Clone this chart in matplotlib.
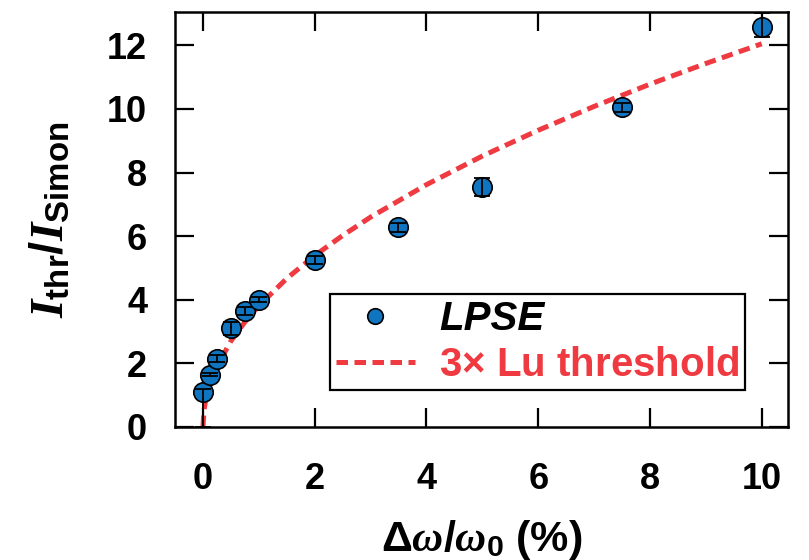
import numpy as np
import matplotlib.pyplot as plt

plt.rcParams['font.family'] = ['Liberation Sans', 'DejaVu Sans']
plt.rcParams['font.weight'] = 'bold'
plt.rcParams['axes.labelweight'] = 'bold'
plt.rcParams['mathtext.fontset'] = 'custom'
plt.rcParams['mathtext.rm'] = 'Liberation Sans:bold'
plt.rcParams['mathtext.bf'] = 'Liberation Sans:bold'
plt.rcParams['mathtext.it'] = 'Liberation Serif:italic:bold'

# LPSE simulation points
lpse_x = [0.0, 0.125, 0.25, 0.5, 0.75, 1.0, 2.0, 3.5, 5.0, 7.5, 10.0]
lpse_y = [1.1, 1.65, 2.15, 3.1, 3.65, 4.0, 5.25, 6.28, 7.55, 10.05, 12.57]
err_lo = [1.1, 0.05, 0.1, 0.2, 0.12, 0.08, 0.12, 0.15, 0.28, 0.15, 0.3]
err_hi = [0.1, 0.05, 0.1, 0.2, 0.12, 0.08, 0.12, 0.15, 0.28, 0.15, 0.45]

# 3x Lu threshold curve
lu_x = [0.0, 0.02, 0.05, 0.1, 0.25, 0.5, 0.75, 1.0, 1.5, 2.0, 2.5, 3.0,
        4.0, 5.0, 6.0, 7.0, 8.0, 9.0, 10.0]
lu_y = [0.0, 0.54, 0.85, 1.2, 1.9, 2.7, 3.3, 3.81, 4.67, 5.39, 6.02, 6.6,
        7.62, 8.52, 9.33, 10.08, 10.78, 11.43, 12.05]

red = '#ee3a40'
blue = '#0f75c0'

fig = plt.figure(figsize=(8.09, 5.6), dpi=100)
ax = fig.add_axes([0.2163, 0.2375, 0.7577, 0.7411])

ax.plot(lu_x, lu_y, color=red, lw=3.6, dashes=(2.3, 1.3), zorder=2,
        label=r'3$\times$ Lu threshold')
ax.plot(lpse_x, lpse_y, 'o', ms=14, mfc=blue, mec='black', mew=1.2,
        zorder=3, label='LPSE')
ax.errorbar(lpse_x, lpse_y, yerr=[err_lo, err_hi], fmt='none', ecolor='black',
            elinewidth=1.3, capsize=5.5, capthick=1.3, zorder=4)

ax.set_xlim(-0.5, 10.47)
ax.set_ylim(0, 13.05)
ax.set_xticks([0, 2, 4, 6, 8, 10])
ax.set_yticks([0, 2, 4, 6, 8, 10, 12])

for s in ax.spines.values():
    s.set_linewidth(1.8)
ax.tick_params(axis='both', direction='in', length=14, width=1.6,
               labelsize=26, top=True, right=True)
ax.tick_params(axis='x', pad=25)
ax.tick_params(axis='y', pad=20)

ax.set_xlabel(r'$\Delta\omega/\omega_{\mathrm{0}}$ (%)', fontsize=31, labelpad=15)
ax.set_ylabel(r'$I_{\mathrm{thr}}/I_{\mathrm{Simon}}$', fontsize=34, labelpad=24)

handles, labels = ax.get_legend_handles_labels()
leg = ax.legend(handles[::-1], labels[::-1], loc='lower right',
                bbox_to_anchor=(0.93, 0.089), borderaxespad=0, fontsize=29,
                fancybox=False, edgecolor='black', framealpha=1,
                handlelength=1.95, handletextpad=0.6, borderpad=0.15,
                labelspacing=0.2, markerscale=0.8)
leg.get_frame().set_linewidth(1.6)
texts = leg.get_texts()
texts[0].set_style('italic')
texts[1].set_color(red)

fig.savefig('out.png', dpi=100)
